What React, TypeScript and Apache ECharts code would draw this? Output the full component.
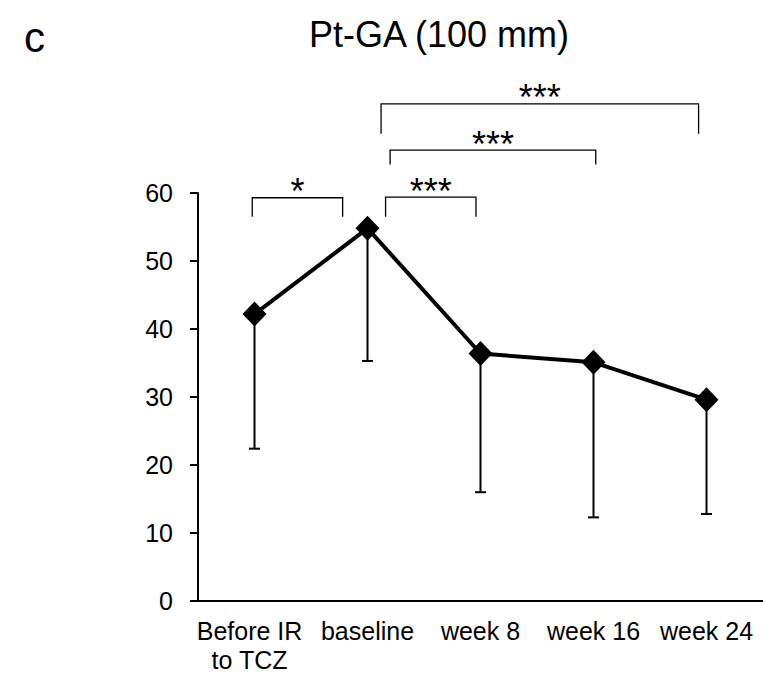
import React, { useEffect, useRef } from "react";
import * as echarts from "echarts";

// Time points and group summary (mean with lower SD whisker)
const categories = ["Before IR\nto TCZ", "baseline", "week 8", "week 16", "week 24"];
const means = [42.2, 54.8, 36.4, 35.1, 29.6];
const lowerBounds = [22.4, 35.3, 16.0, 12.3, 12.8];

// Y axis ticks
const yMin = 0;
const yMax = 60;
const yStep = 10;

// Significance brackets: x spans on the category scale, y in data units
const bracketFrom = [-0.02, 1.16, 1.2, 1.12];
const bracketTo = [0.78, 1.96, 3.02, 3.93];
const bracketTop = [59.3, 59.4, 66.3, 73.1];
const bracketLegEnd = [56.5, 56.5, 64.2, 68.7];
const bracketLabels = ["*", "***", "***", "***"];

const titleText = "Pt-GA (100 mm)";
const panelLetter = "c";

const FONT = "'Liberation Sans', Arial, Helvetica, sans-serif";

export default function App() {
  const ref = useRef<HTMLDivElement>(null);

  useEffect(() => {
    if (!ref.current) return;
    const chart = echarts.init(ref.current, undefined, { renderer: "svg" });

    const option: any = {
      animation: false,
      backgroundColor: "#ffffff",
      textStyle: { fontFamily: FONT, color: "#000" },
      grid: { left: 198, top: 193, width: 567, height: 408, containLabel: false },
      graphic: [
        {
          type: "text",
          x: 439,
          y: 34,
          style: {
            text: titleText,
            fontSize: 36,
            fontFamily: FONT,
            fill: "#000",
            align: "center",
            verticalAlign: "middle",
          },
        },
        {
          type: "text",
          x: 24,
          y: 37,
          style: {
            text: panelLetter,
            fontSize: 42,
            fontFamily: FONT,
            fill: "#000",
            align: "left",
            verticalAlign: "middle",
          },
        },
      ],
      xAxis: [
        {
          type: "category",
          data: categories.map((c, i) =>
            i === 0 ? { value: c, textStyle: { padding: [0, 10, 0, 0] } } : c
          ),
          boundaryGap: true,
          axisLine: { show: true, onZero: false, lineStyle: { color: "#000", width: 2 } },
          axisTick: { show: false },
          axisLabel: {
            interval: 0,
            color: "#000",
            fontSize: 25,
            lineHeight: 29,
            fontFamily: FONT,
            margin: 15,
          },
          splitLine: { show: false },
        },
        {
          type: "value",
          min: -0.5,
          max: 4.5,
          show: false,
          gridIndex: 0,
          axisLine: { onZero: false },
        },
      ],
      yAxis: {
        type: "value",
        min: yMin,
        max: yMax,
        interval: yStep,
        axisLine: { show: true, onZero: false, lineStyle: { color: "#000", width: 2 } },
        axisTick: { show: true, length: 8, inside: false, lineStyle: { color: "#000", width: 2 } },
        axisLabel: { color: "#000", fontSize: 25, fontFamily: FONT, margin: 25 },
        splitLine: { show: false },
      },
      series: [
        {
          type: "custom",
          name: "sd",
          xAxisIndex: 0,
          yAxisIndex: 0,
          z: 1,
          clip: false,
          data: means.map((m, i) => [i, lowerBounds[i], m]),
          encode: { x: 0, y: [1, 2] },
          renderItem: (params: any, api: any) => {
            const i = params.dataIndex;
            const top = api.coord([i, means[i]]);
            const bot = api.coord([i, lowerBounds[i]]);
            const half = 5.5;
            const style = { stroke: "#000", lineWidth: 2 };
            return {
              type: "group",
              children: [
                { type: "line", shape: { x1: top[0], y1: top[1], x2: bot[0], y2: bot[1] }, style },
                { type: "line", shape: { x1: bot[0] - half, y1: bot[1], x2: bot[0] + half, y2: bot[1] }, style },
              ],
            };
          },
        },
        {
          type: "line",
          name: "mean",
          data: means,
          z: 3,
          symbol: "diamond",
          symbolSize: [24, 25],
          lineStyle: { color: "#000", width: 4 },
          itemStyle: { color: "#000" },
        },
        {
          type: "custom",
          name: "significance",
          xAxisIndex: 1,
          yAxisIndex: 0,
          z: 4,
          clip: false,
          silent: true,
          data: bracketLabels.map((_, i) => [bracketFrom[i], bracketTo[i], bracketTop[i], bracketLegEnd[i]]),
          encode: { x: [0, 1], y: [2, 3] },
          renderItem: (params: any, api: any) => {
            const i = params.dataIndex;
            const a = api.coord([bracketFrom[i], bracketLegEnd[i]]);
            const b = api.coord([bracketFrom[i], bracketTop[i]]);
            const c = api.coord([bracketTo[i], bracketTop[i]]);
            const d = api.coord([bracketTo[i], bracketLegEnd[i]]);
            return {
              type: "group",
              children: [
                {
                  type: "polyline",
                  shape: { points: [a, b, c, d] },
                  style: { stroke: "#000", lineWidth: 1.3, fill: null },
                },
                {
                  type: "text",
                  x: (b[0] + c[0]) / 2,
                  y: b[1] - 6,
                  style: {
                    text: bracketLabels[i],
                    fontSize: 36,
                    fontFamily: FONT,
                    fill: "#000",
                    align: "center",
                    verticalAlign: "middle",
                  },
                },
              ],
            };
          },
        },
      ],
    };

    chart.setOption(option);
    return () => chart.dispose();
  }, []);

  return (
    <div
      ref={ref}
      style={{ position: "absolute", left: 0, top: 0, width: 763, height: 676, background: "#fff" }}
    />
  );
}
